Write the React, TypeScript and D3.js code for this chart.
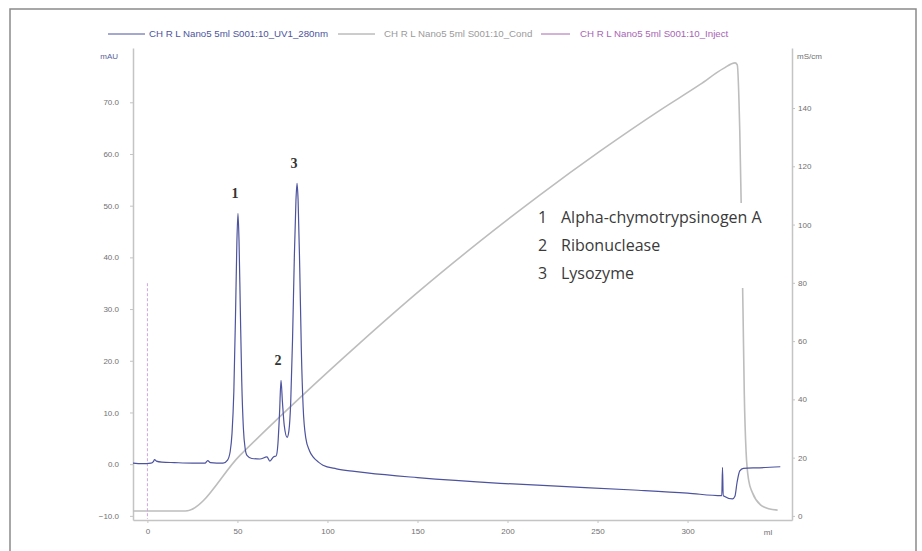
import React, { useEffect, useRef } from 'react';
import * as d3 from 'd3';

// UV 280nm trace (ml, mAU)
const uvMl = [
  -8, -3, 2, 3.3, 4, 5, 8, 15, 25, 32, 33.5, 35, 42, 44.5, 46, 47, 48, 49, 49.7, 50.3,
  50.9, 51.6, 52.4, 53.3, 54.3, 55.3, 58, 62.5, 66.4, 68, 70, 71.5, 72.5, 73.4, 74.2,
  75, 76, 77.6, 78.6, 79.6, 80.6, 81.6, 82.5, 83.1, 83.7, 84.6, 85.5, 86.5, 88, 90, 92,
  95, 97.5, 105, 115, 122, 150, 196, 230, 270, 300, 319, 319.4, 319.8, 325, 326.3,
  327.5, 329, 331, 340, 351.5,
];
const uvMau = [
  0.2, 0.1, 0.2, 0.5, 0.9, 0.6, 0.4, 0.3, 0.2, 0.2, 0.7, 0.3, 0.2, 0.8, 2.5, 6, 14, 30, 43, 48.5,
  43, 30, 16, 7, 3, 1.7, 1.1, 1.0, 1.4, 0.6, 1.4, 1.6, 4, 10, 16.2,
  12, 7.5, 5.2, 6.5, 12, 24, 40, 51, 54.3, 51, 38, 22, 11, 5, 2.6, 1.4,
  0.4, -0.2, -0.9, -1.4, -1.7, -2.6, -3.7, -4.3, -5.0, -5.6, -6.1, -0.6, -6.1, -6.7, -6.2,
  -3.5, -1.3, -0.8, -0.7, -0.5,
];

// Conductivity trace (ml, mS/cm)
const condMl = [-8, 21, 51.4, 84.8, 118.1, 151.4, 184.8, 218.1, 251.4, 284.8, 307, 320, 326.4, 327.6, 329, 330, 330.8, 331.5, 332.5, 334, 336, 340.5, 345, 350];
const condMs = [1.7, 1.7, 20.8, 40.6, 59.4, 77.4, 94.3, 110.2, 125.2, 139.3, 148.1, 153.6, 155.5, 154.8, 132, 100, 70, 42, 22, 12, 8, 3.8, 2.5, 2];

// Injection mark
const injectMl = [0, 0];
const injectMau = [35, -10.6];

const leftTicks = [-10, 0, 10, 20, 30, 40, 50, 60, 70];
const rightTicks = [0, 20, 40, 60, 80, 100, 120, 140];
const xTicks = [0, 50, 100, 150, 200, 250, 300];

const peakNames = ['1', '2', '3'];
const peakMl = [50.3, 74.2, 83.1];
const peakMau = [48.5, 16.2, 54.3];

const proteins = ['Alpha-chymotrypsinogen A', 'Ribonuclease', 'Lysozyme'];

const legendLabels = [
  'CH R L Nano5 5ml S001:10_UV1_280nm',
  'CH R L Nano5 5ml S001:10_Cond',
  'CH R L Nano5 5ml S001:10_Inject',
];
const legendColors = ['#4d539e', '#9a9a9a', '#a864b4'];

const App: React.FC = () => {
  const svgRef = useRef<SVGSVGElement>(null);

  useEffect(() => {
    if (!svgRef.current) return;
    const svg = d3.select(svgRef.current);
    svg.selectAll('*').remove();

    const W = 922, H = 551;
    const left = 133, right = 792, top = 48, bottom = 520;

    svg.attr('width', W).attr('height', H);

    // outer frame
    svg.append('rect')
      .attr('x', 10).attr('y', 9)
      .attr('width', 906).attr('height', 560)
      .attr('fill', 'white')
      .attr('stroke', '#8a8a8a')
      .attr('stroke-width', 1.5);

    const x = d3.scaleLinear().domain([-8, 358]).range([left, right]);
    const yL = d3.scaleLinear().domain([-10.8, 80.5]).range([bottom, top]);
    const yR = d3.scaleLinear().domain([-1.4, 160.6]).range([bottom, top]);

    const fontAxis = 'Liberation Sans, Arial, sans-serif';

    // Axes
    const gL = svg.append('g').attr('transform', `translate(${left},0)`)
      .call(d3.axisLeft(yL).tickValues(leftTicks).tickFormat(d3.format('.1f')).tickSize(3).tickSizeOuter(0).tickPadding(11));
    const gR = svg.append('g').attr('transform', `translate(${right},0)`)
      .call(d3.axisRight(yR).tickValues(rightTicks).tickSize(3).tickSizeOuter(0).tickPadding(3));
    const gB = svg.append('g').attr('transform', `translate(0,${bottom})`)
      .call(d3.axisBottom(x).tickValues(xTicks).tickSize(3).tickSizeOuter(0).tickPadding(5));

    [gL, gR, gB].forEach(g => {
      g.select('.domain').attr('stroke', '#c4c4c4').attr('stroke-width', 1.5);
      g.selectAll('.tick line').attr('stroke', '#c4c4c4');
      g.selectAll('.tick text')
        .attr('fill', '#707070')
        .style('font-size', '8px')
        .style('font-family', fontAxis);
    });

    // axis units
    svg.append('text').attr('x', 118).attr('y', 59).attr('text-anchor', 'end')
      .attr('fill', '#5a5f9a').style('font-size', '8px').style('font-family', fontAxis).text('mAU');
    svg.append('text').attr('x', 797).attr('y', 59)
      .attr('fill', '#707070').style('font-size', '8px').style('font-family', fontAxis).text('mS/cm');
    svg.append('text').attr('x', 768).attr('y', 535).attr('text-anchor', 'middle')
      .attr('fill', '#707070').style('font-size', '8px').style('font-family', fontAxis).text('ml');

    // Legend
    const legendX = [[108, 145, 149], [338, 375, 384], [541, 570, 580]];
    legendLabels.forEach((label, i) => {
      const [x1, x2, tx] = legendX[i];
      svg.append('line').attr('x1', x1).attr('x2', x2).attr('y1', 34).attr('y2', 34)
        .attr('stroke', legendColors[i]).attr('stroke-width', 1);
      svg.append('text').attr('x', tx).attr('y', 37)
        .attr('fill', legendColors[i])
        .style('font-size', '9.7px').style('font-family', fontAxis)
        .text(label);
    });

    // Conductivity
    const condLine = d3.line<number>()
      .x((_, i) => x(condMl[i]))
      .y(d => yR(d))
      .curve(d3.curveMonotoneX);
    svg.append('path').datum(condMs)
      .attr('d', condLine)
      .attr('fill', 'none')
      .attr('stroke', '#bdbdbd')
      .attr('stroke-width', 1.6);

    // Injection
    svg.append('line')
      .attr('x1', x(injectMl[0])).attr('x2', x(injectMl[1]))
      .attr('y1', yL(injectMau[0])).attr('y2', yL(injectMau[1]))
      .attr('stroke', '#c9a6dc')
      .attr('stroke-width', 1)
      .attr('stroke-dasharray', '3,2');

    // UV
    const uvLine = d3.line<number>()
      .x((_, i) => x(uvMl[i]))
      .y(d => yL(d))
      .curve(d3.curveMonotoneX);
    svg.append('path').datum(uvMau)
      .attr('d', uvLine)
      .attr('fill', 'none')
      .attr('stroke', '#4d539e')
      .attr('stroke-width', 1.2);

    // Peak labels
    peakNames.forEach((p, i) => {
      svg.append('text')
        .attr('x', x(peakMl[i]) - 3)
        .attr('y', yL(peakMau[i]) - 15)
        .attr('text-anchor', 'middle')
        .attr('fill', '#333')
        .style('font-size', '14px')
        .style('font-weight', 'bold')
        .style('font-family', 'Liberation Serif, serif')
        .text(p);
    });

    // Annotation box
    svg.append('rect')
      .attr('x', 532).attr('y', 203).attr('width', 243).attr('height', 85)
      .attr('fill', 'white');
    proteins.forEach((name, i) => {
      const yy = 223 + i * 28;
      svg.append('text').attr('x', 538).attr('y', yy)
        .attr('fill', '#3a3a3a').style('font-size', '16px').style('font-family', 'Open Sans, sans-serif')
        .text(String(i + 1));
      svg.append('text').attr('x', 561).attr('y', yy)
        .attr('fill', '#3a3a3a').style('font-size', '16px').style('font-family', 'Open Sans, sans-serif')
        .text(name);
    });
  }, []);

  return (
    <svg ref={svgRef} style={{ position: 'absolute', left: 0, top: 0, background: 'white' }} />
  );
};

export default App;
